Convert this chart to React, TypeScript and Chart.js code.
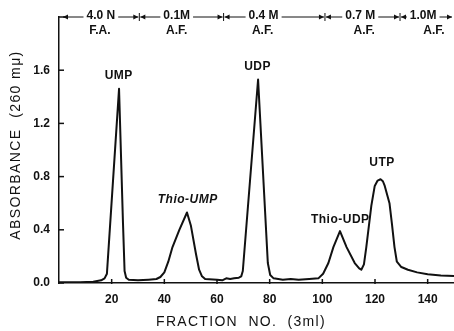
import { useEffect, useRef } from 'react';
import { Chart, registerables } from 'chart.js';

Chart.register(...registerables);

// Fraction number (3 ml) vs absorbance at 260 mμ
const fractions = [
  0, 8, 13, 16, 17.3, 18.2, 22.8, 24.3, 24.9, 25.5, 26.5,
  30, 34, 37, 38.5, 40, 41.5, 43.1, 45.7, 48.6, 50.1, 52, 53.2, 54.3, 55.5, 60, 62,
  63.5, 65, 66.5, 68.3, 69.2, 69.8, 75.6, 79.3, 80.2, 81.5,
  85, 88, 91, 95, 98.5, 100.3, 102.3, 104.2, 106.7, 109.2, 112.3, 114, 114.8,
  115.8, 116.7, 118.6, 119.9, 121, 122.1, 123, 123.7, 125.5, 126.4, 127.4, 128.3,
  130, 132.5, 136, 140, 145, 150,
];
const absorbance = [
  0.005, 0.005, 0.01, 0.02, 0.035, 0.07, 1.46, 0.45, 0.09,
  0.04, 0.025, 0.02, 0.025, 0.03, 0.045, 0.08, 0.16, 0.27, 0.4, 0.53, 0.43, 0.22,
  0.1, 0.05, 0.03, 0.025, 0.02, 0.035, 0.03, 0.035, 0.04, 0.05, 0.09, 1.53,
  0.15, 0.06, 0.035, 0.025, 0.03, 0.025, 0.03, 0.035, 0.07, 0.15,
  0.27, 0.39, 0.27, 0.15, 0.11, 0.1, 0.14, 0.27, 0.58, 0.73, 0.77, 0.78, 0.765,
  0.73, 0.6, 0.45, 0.27, 0.16, 0.12, 0.1, 0.08, 0.065, 0.057, 0.053,
];

const xTicks = [20, 40, 60, 80, 100, 120, 140];
const yTicks = [0, 0.4, 0.8, 1.2, 1.6];

const peakLabels = ['UMP', 'Thio-UMP', 'UDP', 'Thio-UDP', 'UTP'];
const peakLabelX = [22.7, 48.9, 75.4, 106.8, 122.7];
const peakLabelY = [1.557, 0.626, 1.63, 0.475, 0.906];
const peakLabelItalic = [false, true, false, false, false];

const eluentTop = ['4.0 N', '0.1M', '0.4 M', '0.7 M', '1.0M'];
const eluentTopX = [15.9, 44.7, 77.7, 114.4, 138.3];
const eluentBottom = ['F.A.', 'A.F.', 'A.F.', 'A.F.', 'A.F.'];
const eluentBottomX = [15.5, 44.7, 77.3, 115.9, 142.4];
const eluentBounds = [0, 30.5, 62.5, 101, 129.5, 150];

const FONT = '"Liberation Sans", Arial, sans-serif';
const INK = '#111';

const decorPlugin = {
  id: 'decor',
  afterDraw(chart: any) {
    const { ctx, chartArea, scales } = chart;
    const xs = scales.x;
    const ys = scales.y;
    ctx.save();
    ctx.strokeStyle = INK;
    ctx.fillStyle = INK;

    // inner tick marks
    ctx.lineWidth = 1.5;
    yTicks.forEach((v) => {
      const py = ys.getPixelForValue(v);
      ctx.beginPath();
      ctx.moveTo(chartArea.left, py);
      ctx.lineTo(chartArea.left + 5, py);
      ctx.stroke();
    });
    xTicks.forEach((v) => {
      const px = xs.getPixelForValue(v);
      ctx.beginPath();
      ctx.moveTo(px, chartArea.bottom + 1);
      ctx.lineTo(px, chartArea.bottom - 4);
      ctx.stroke();
    });

    // peak labels
    ctx.textAlign = 'center';
    ctx.textBaseline = 'middle';
    ctx.letterSpacing = '0.5px';
    peakLabels.forEach((t, i) => {
      ctx.font = `${peakLabelItalic[i] ? 'italic ' : ''}bold 12px ${FONT}`;
      ctx.fillText(t, xs.getPixelForValue(peakLabelX[i]), ys.getPixelForValue(peakLabelY[i]));
    });

    // eluent header
    const lineY = chartArea.top;
    ctx.font = `bold 12px ${FONT}`;
    ctx.letterSpacing = '0px';
    ctx.lineWidth = 1;
    const arrow = (x1: number, x2: number) => {
      ctx.beginPath();
      ctx.moveTo(x1, lineY);
      ctx.lineTo(x2, lineY);
      ctx.stroke();
      const d = x2 > x1 ? -1 : 1;
      ctx.beginPath();
      ctx.moveTo(x2, lineY);
      ctx.lineTo(x2 + d * 5, lineY - 2.5);
      ctx.lineTo(x2 + d * 5, lineY + 2.5);
      ctx.closePath();
      ctx.fill();
    };
    eluentTop.forEach((t, i) => {
      const cx = xs.getPixelForValue(eluentTopX[i]);
      const w = ctx.measureText(t).width;
      const a = xs.getPixelForValue(eluentBounds[i]);
      const b = Math.min(xs.getPixelForValue(eluentBounds[i + 1]), chart.width - 1);
      ctx.fillText(t, cx, lineY - 1);
      arrow(cx - w / 2 - 3, i === 0 ? a + 4 : a + 1);
      arrow(cx + w / 2 + 3, b - 1);
      ctx.fillText(eluentBottom[i], xs.getPixelForValue(eluentBottomX[i]), lineY + 14);
    });
    eluentBounds.slice(1, -1).forEach((v) => {
      const px = xs.getPixelForValue(v);
      ctx.beginPath();
      ctx.moveTo(px, lineY - 4);
      ctx.lineTo(px, lineY + 4);
      ctx.stroke();
    });
    ctx.lineWidth = 1.5;
    ctx.beginPath();
    ctx.moveTo(chartArea.left, lineY);
    ctx.lineTo(chartArea.left + 6, lineY);
    ctx.stroke();

    // axis titles
    ctx.font = `14px ${FONT}`;
    ctx.letterSpacing = '1.3px';
    ctx.textBaseline = 'middle';
    ctx.textAlign = 'center';
    ctx.fillText('FRACTION  NO.  (3ml)', 241, 322);

    ctx.font = `14px ${FONT}`;
    ctx.letterSpacing = '1.4px';
    ctx.translate(16, 145);
    ctx.rotate(-Math.PI / 2);
    ctx.fillText('ABSORBANCE  (260 mμ)', 0, 0);
    ctx.restore();
  },
};

export default function App() {
  const ref = useRef<HTMLCanvasElement>(null);
  useEffect(() => {
    if (!ref.current) return;
    const chart = new Chart(ref.current, {
      type: 'line',
      data: {
        datasets: [
          {
            data: fractions.map((f, i) => ({ x: f, y: absorbance[i] })),
            borderColor: INK,
            borderWidth: 2,
            pointRadius: 0,
            tension: 0,
            borderJoinStyle: 'round',
            fill: false,
          },
        ],
      },
      options: {
        responsive: false,
        animation: false,
        layout: { padding: { top: 17, right: 0, left: 0, bottom: 0 } },
        plugins: { legend: { display: false }, tooltip: { enabled: false } },
        scales: {
          x: {
            type: 'linear',
            min: 0,
            max: 150,
            afterBuildTicks: (s: any) => {
              s.ticks = xTicks.map((v) => ({ value: v }));
            },
            afterFit: (s: any) => {
              s.height = 48;
            },
            grid: { display: false, drawTicks: false },
            border: { display: true, color: INK, width: 1.5 },
            ticks: {
              padding: 9,
              color: INK,
              font: { family: FONT, size: 12, weight: 'bold' },
              maxRotation: 0,
              callback: (v: any) => String(v),
            },
          },
          y: {
            type: 'linear',
            min: 0,
            max: 2.0,
            afterBuildTicks: (s: any) => {
              s.ticks = yTicks.map((v) => ({ value: v }));
            },
            afterFit: (s: any) => {
              s.width = 59;
            },
            grid: { display: false, drawTicks: false },
            border: { display: true, color: INK, width: 1.5 },
            ticks: {
              padding: 9,
              color: INK,
              font: { family: FONT, size: 12, weight: 'bold' },
              callback: (v: any) => Number(v).toFixed(1),
            },
          },
        },
      },
      plugins: [decorPlugin],
    } as any);
    return () => chart.destroy();
  }, []);
  return (
    <div style={{ position: 'fixed', left: 0, top: 0, width: 454, height: 331, background: '#fff' }}>
      <canvas ref={ref} width={454} height={331} />
    </div>
  );
}
